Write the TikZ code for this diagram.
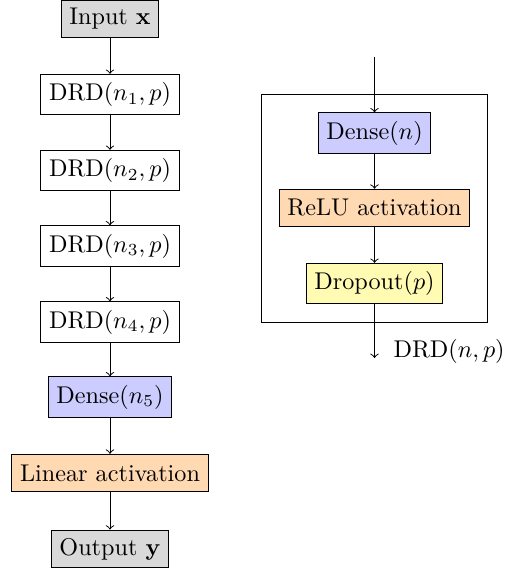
\documentclass[tikz,border=0pt]{standalone}
\usepackage{amsmath}
\usepackage{amssymb}
\usetikzlibrary{fit}

\begin{document}
\begin{tikzpicture}[x=0.4132pt, y=-0.4132pt,
		block/.style={draw, rectangle, minimum height=15.5pt}]
	\useasboundingbox (0, 0) rectangle (507, 573);
	% left column: the whole network
	\node[block, fill=gray!30] (inp) at (110, 19) {Input $\mathbf{x}$};
	\foreach \i/\y in {1/94.5, 2/170.5, 3/246, 4/322}
		\node[block] (drd\i) at (110, \y) {DRD$(n_\i, p)$};
	\node[block, fill=blue!20] (dense5) at (110, 397) {Dense$(n_5)$};
	\node[block, fill=orange!30] (lin) at (110, 473) {Linear activation};
	\node[block, fill=gray!30] (outp) at (110, 549) {Output $\mathbf{y}$};
	\draw[->] (inp) -- (drd1);
	\foreach \i [count=\j from 2] in {1, 2, 3}
		\draw[->] (drd\i) -- (drd\j);
	\draw[->] (drd4) -- (dense5);
	\draw[->] (dense5) -- (lin);
	\draw[->] (lin) -- (outp);
	% right: one DRD block
	\node[block, fill=blue!20] (dense) at (374.5, 133) {Dense$(n)$};
	\node[block, fill=orange!30] (relu) at (374.5, 208) {ReLU activation};
	\node[block, fill=yellow!30] (drop) at (374.5, 283.5) {Dropout$(p)$};
	\node[draw, fit=(dense)(relu)(drop), inner xsep=7pt, inner ysep=7.4pt] (drdbox) {};
	\coordinate (drdin) at (374.5, 57);
	\coordinate (drdout) at (374.5, 358);
	\draw[->] (drdin) -- (dense);
	\draw[->] (dense) -- (relu);
	\draw[->] (relu) -- (drop);
	\draw[->] (drop) -- (drdout);
	\node[anchor=west] (drdlabel) at (385, 351) {DRD$(n, p)$};
\end{tikzpicture}
\end{document}
